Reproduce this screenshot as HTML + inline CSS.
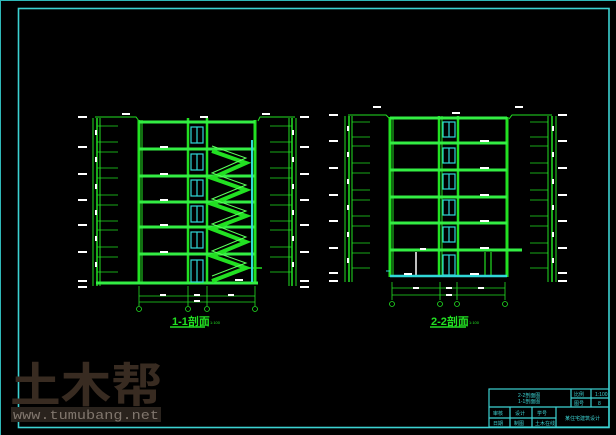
<!DOCTYPE html>
<html><head><meta charset="utf-8"><style>
html,body{margin:0;padding:0;background:#000;}
svg{display:block;}
.t{font-family:"Liberation Sans","Noto Sans CJK SC",sans-serif;}
</style></head><body>
<svg width="616" height="435" viewBox="0 0 616 435" xmlns="http://www.w3.org/2000/svg">
<rect width="616" height="435" fill="#000"/>
<rect x="0.5" y="0.5" width="620" height="440" fill="none" stroke="#2fb8b8" stroke-width="1"/>
<rect x="18.5" y="8.5" width="590.5" height="419" fill="none" stroke="#3cd2d2" stroke-width="1.6"/>

<text x="10" y="402" class="t" font-size="47" font-weight="bold" fill="#382b21" textLength="152" lengthAdjust="spacingAndGlyphs">土木帮</text>
<rect x="11" y="407" width="150" height="15" fill="#2a231d"/>
<text x="13" y="419" font-family="Liberation Mono,monospace" font-size="13" fill="#80766d" textLength="146" lengthAdjust="spacingAndGlyphs">www.tumubang.net</text>

<!-- ===== Section 1-1 ===== -->
<g stroke="#22e022" fill="none">
  <line x1="93" y1="118" x2="93" y2="286" stroke-width="1"/>
  <line x1="97" y1="118" x2="97" y2="286" stroke-width="1.5"/>
  <line x1="100" y1="118" x2="100" y2="286" stroke-width="1"/>
  <polyline points="95,117 136,117 139,121" stroke-width="1"/>
  <line x1="296" y1="118" x2="296" y2="286" stroke-width="1"/>
  <line x1="292" y1="118" x2="292" y2="286" stroke-width="1.5"/>
  <line x1="289" y1="118" x2="289" y2="286" stroke-width="1"/>
  <polyline points="258,121 260,117 295,117" stroke-width="1"/>
  <line x1="139" y1="120" x2="139" y2="284" stroke-width="3"/>
  <line x1="142" y1="120" x2="142" y2="284" stroke-width="1"/>
  <line x1="255" y1="120" x2="255" y2="284" stroke-width="3"/>
  <line x1="188" y1="118" x2="188" y2="284" stroke-width="2.5"/>
  <line x1="207" y1="118" x2="207" y2="284" stroke-width="2.5"/>
  <g stroke-width="3" stroke="#33ee44">
    <line x1="139" y1="122" x2="255" y2="122"/>
    <line x1="139" y1="149" x2="255" y2="149"/>
    <line x1="139" y1="176" x2="255" y2="176"/>
    <line x1="139" y1="202" x2="255" y2="202"/>
    <line x1="139" y1="227" x2="255" y2="227"/>
    <line x1="139" y1="254" x2="255" y2="254"/>
    <line x1="96" y1="283" x2="258" y2="283"/>
  </g>
  <g stroke-width="4">
    <polyline points="212,151 246,163 212,178 246,190 212,204 246,216 212,229 246,242 212,256 246,268 212,281"/>
  </g>
  <g stroke-width="1" stroke="#5cff5c">
    <polyline points="212,146 246,158 212,173 246,185 212,199 246,211 212,224 246,237 212,251 246,263 212,276"/>
  </g>
  <line x1="246" y1="268" x2="262" y2="268" stroke-width="1.5"/>
  <g stroke-width="0.8">
    <line x1="97" y1="126" x2="118" y2="126"/><line x1="97" y1="142" x2="118" y2="142"/><line x1="97" y1="152" x2="118" y2="152"/>
    <line x1="97" y1="168" x2="118" y2="168"/><line x1="97" y1="178" x2="118" y2="178"/><line x1="97" y1="195" x2="118" y2="195"/>
    <line x1="97" y1="205" x2="118" y2="205"/><line x1="97" y1="221" x2="118" y2="221"/><line x1="97" y1="230" x2="118" y2="230"/>
    <line x1="97" y1="247" x2="118" y2="247"/><line x1="97" y1="257" x2="118" y2="257"/><line x1="97" y1="272" x2="118" y2="272"/>
    <line x1="270" y1="126" x2="292" y2="126"/><line x1="270" y1="142" x2="292" y2="142"/><line x1="270" y1="152" x2="292" y2="152"/>
    <line x1="270" y1="168" x2="292" y2="168"/><line x1="270" y1="178" x2="292" y2="178"/><line x1="270" y1="195" x2="292" y2="195"/>
    <line x1="270" y1="205" x2="292" y2="205"/><line x1="270" y1="221" x2="292" y2="221"/><line x1="270" y1="230" x2="292" y2="230"/>
    <line x1="270" y1="247" x2="292" y2="247"/><line x1="270" y1="257" x2="292" y2="257"/><line x1="270" y1="272" x2="292" y2="272"/>
  </g>
  <g stroke-width="0.8">
    <line x1="139" y1="296" x2="255" y2="296"/><line x1="139" y1="302" x2="255" y2="302"/>
    <line x1="139" y1="286" x2="139" y2="306"/><line x1="188" y1="286" x2="188" y2="306"/>
    <line x1="207" y1="286" x2="207" y2="306"/><line x1="255" y1="286" x2="255" y2="306"/>
    <circle cx="139" cy="309" r="2.5"/><circle cx="188" cy="309" r="2.5"/><circle cx="207" cy="309" r="2.5"/><circle cx="255" cy="309" r="2.5"/>
  </g>
  <line x1="170" y1="327" x2="205" y2="327" stroke-width="1.5"/>
</g>
<g stroke="#30d8d8" fill="none" stroke-width="1.2">
  <rect x="191" y="127" width="12" height="16"/><rect x="191" y="154" width="12" height="16"/><rect x="191" y="180" width="12" height="16"/>
  <rect x="191" y="206" width="12" height="16"/><rect x="191" y="232" width="12" height="16"/><rect x="191" y="260" width="12" height="22"/>
  <line x1="197" y1="127" x2="197" y2="143"/><line x1="197" y1="154" x2="197" y2="170"/><line x1="197" y1="180" x2="197" y2="196"/>
  <line x1="197" y1="206" x2="197" y2="222"/><line x1="197" y1="232" x2="197" y2="248"/><line x1="197" y1="260" x2="197" y2="282"/>
  <line x1="252" y1="140" x2="252" y2="282" stroke-width="2"/>
</g>
<g fill="#fff">
  <rect x="78" y="116" width="9" height="2"/><rect x="78" y="146" width="9" height="2"/><rect x="78" y="173" width="9" height="2"/>
  <rect x="78" y="199" width="9" height="2"/><rect x="78" y="224" width="9" height="2"/><rect x="78" y="251" width="9" height="2"/>
  <rect x="78" y="280" width="9" height="2"/><rect x="78" y="286" width="9" height="2"/>
  <rect x="300" y="116" width="9" height="2"/><rect x="300" y="146" width="9" height="2"/><rect x="300" y="173" width="9" height="2"/>
  <rect x="300" y="199" width="9" height="2"/><rect x="300" y="224" width="9" height="2"/><rect x="300" y="251" width="9" height="2"/>
  <rect x="300" y="280" width="9" height="2"/><rect x="300" y="286" width="9" height="2"/>
  <rect x="122" y="113" width="8" height="2"/><rect x="262" y="113" width="8" height="2"/><rect x="200" y="116" width="8" height="2"/>
  <rect x="95" y="130" width="2" height="5"/><rect x="95" y="157" width="2" height="5"/><rect x="95" y="184" width="2" height="5"/>
  <rect x="95" y="210" width="2" height="5"/><rect x="95" y="236" width="2" height="5"/><rect x="95" y="262" width="2" height="5"/>
  <rect x="292" y="130" width="2" height="5"/><rect x="292" y="157" width="2" height="5"/><rect x="292" y="184" width="2" height="5"/>
  <rect x="292" y="210" width="2" height="5"/><rect x="292" y="236" width="2" height="5"/><rect x="292" y="262" width="2" height="5"/>
  <rect x="160" y="146" width="8" height="2"/><rect x="160" y="173" width="8" height="2"/><rect x="160" y="199" width="8" height="2"/>
  <rect x="160" y="224" width="8" height="2"/><rect x="160" y="251" width="8" height="2"/><rect x="235" y="279" width="8" height="2"/>
  <rect x="160" y="294" width="6" height="2"/><rect x="194" y="294" width="6" height="2"/><rect x="228" y="294" width="6" height="2"/><rect x="194" y="300" width="6" height="2"/>
</g>
<text x="172" y="325" class="t" font-size="11" font-weight="bold" fill="#22e022">1-1剖面</text>
<text x="210" y="324" class="t" font-size="4" fill="#22e022">1:100</text>

<!-- ===== Section 2-2 ===== -->
<g stroke="#22e022" fill="none">
  <line x1="345" y1="116" x2="345" y2="282" stroke-width="1"/>
  <line x1="349" y1="116" x2="349" y2="282" stroke-width="1.5"/>
  <line x1="352" y1="116" x2="352" y2="282" stroke-width="1"/>
  <polyline points="348,115 386,115 390,119" stroke-width="1"/>
  <line x1="548" y1="116" x2="548" y2="282" stroke-width="1"/>
  <line x1="552" y1="116" x2="552" y2="282" stroke-width="1.5"/>
  <line x1="556" y1="116" x2="556" y2="282" stroke-width="1"/>
  <polyline points="509,119 512,115 552,115" stroke-width="1"/>
  <line x1="390" y1="117" x2="390" y2="277" stroke-width="3"/>
  <line x1="393" y1="117" x2="393" y2="277" stroke-width="1"/>
  <line x1="507" y1="117" x2="507" y2="277" stroke-width="3"/>
  <line x1="439" y1="116" x2="439" y2="277" stroke-width="2.5"/>
  <line x1="458" y1="116" x2="458" y2="277" stroke-width="2.5"/>
  <line x1="442" y1="116" x2="442" y2="277" stroke-width="1"/>
  <g stroke-width="3" stroke="#33ee44">
    <line x1="390" y1="118" x2="507" y2="118"/>
    <line x1="390" y1="143" x2="507" y2="143"/>
    <line x1="390" y1="170" x2="507" y2="170"/>
    <line x1="390" y1="197" x2="507" y2="197"/>
    <line x1="390" y1="223" x2="507" y2="223"/>
    <line x1="390" y1="250" x2="522" y2="250"/>
  </g>
  <line x1="416" y1="252" x2="416" y2="276" stroke="#fff" stroke-width="1.5"/>
  <line x1="485" y1="252" x2="485" y2="276" stroke-width="1.2"/>
  <line x1="491" y1="252" x2="491" y2="276" stroke-width="1.2"/>
  <g stroke-width="0.8">
    <line x1="352" y1="122" x2="370" y2="122"/><line x1="352" y1="137" x2="370" y2="137"/><line x1="352" y1="146" x2="370" y2="146"/>
    <line x1="352" y1="163" x2="370" y2="163"/><line x1="352" y1="173" x2="370" y2="173"/><line x1="352" y1="190" x2="370" y2="190"/>
    <line x1="352" y1="200" x2="370" y2="200"/><line x1="352" y1="216" x2="370" y2="216"/><line x1="352" y1="226" x2="370" y2="226"/>
    <line x1="352" y1="243" x2="370" y2="243"/><line x1="352" y1="253" x2="370" y2="253"/><line x1="352" y1="268" x2="370" y2="268"/>
    <line x1="530" y1="122" x2="548" y2="122"/><line x1="530" y1="137" x2="548" y2="137"/><line x1="530" y1="146" x2="548" y2="146"/>
    <line x1="530" y1="163" x2="548" y2="163"/><line x1="530" y1="173" x2="548" y2="173"/><line x1="530" y1="190" x2="548" y2="190"/>
    <line x1="530" y1="200" x2="548" y2="200"/><line x1="530" y1="216" x2="548" y2="216"/><line x1="530" y1="226" x2="548" y2="226"/>
    <line x1="530" y1="243" x2="548" y2="243"/><line x1="530" y1="253" x2="548" y2="253"/><line x1="530" y1="268" x2="548" y2="268"/>
  </g>
  <g stroke-width="0.8">
    <line x1="392" y1="288" x2="505" y2="288"/><line x1="392" y1="295" x2="505" y2="295"/>
    <line x1="392" y1="282" x2="392" y2="300"/><line x1="440" y1="282" x2="440" y2="300"/>
    <line x1="457" y1="282" x2="457" y2="300"/><line x1="505" y1="282" x2="505" y2="300"/>
    <circle cx="392" cy="304" r="2.5"/><circle cx="440" cy="304" r="2.5"/><circle cx="457" cy="304" r="2.5"/><circle cx="505" cy="304" r="2.5"/>
  </g>
  <line x1="430" y1="327" x2="466" y2="327" stroke-width="1.5"/>
</g>
<g stroke="#30d8d8" fill="none" stroke-width="1.2">
  <line x1="390" y1="276" x2="507" y2="276" stroke-width="2.5"/>
  <line x1="386" y1="271" x2="390" y2="271" stroke-width="1"/>
  <rect x="443" y="122" width="12" height="15"/><rect x="443" y="148" width="12" height="15"/><rect x="443" y="174" width="12" height="15"/>
  <rect x="443" y="200" width="12" height="15"/><rect x="443" y="227" width="12" height="15"/><rect x="443" y="255" width="12" height="20"/>
  <line x1="449" y1="122" x2="449" y2="137"/><line x1="449" y1="148" x2="449" y2="163"/><line x1="449" y1="174" x2="449" y2="189"/>
  <line x1="449" y1="200" x2="449" y2="215"/><line x1="449" y1="227" x2="449" y2="242"/><line x1="449" y1="255" x2="449" y2="275"/>
</g>
<g fill="#fff">
  <rect x="329" y="114" width="9" height="2"/><rect x="329" y="140" width="9" height="2"/><rect x="329" y="167" width="9" height="2"/>
  <rect x="329" y="194" width="9" height="2"/><rect x="329" y="220" width="9" height="2"/><rect x="329" y="247" width="9" height="2"/>
  <rect x="329" y="272" width="9" height="2"/><rect x="329" y="280" width="9" height="2"/>
  <rect x="558" y="114" width="9" height="2"/><rect x="558" y="140" width="9" height="2"/><rect x="558" y="167" width="9" height="2"/>
  <rect x="558" y="194" width="9" height="2"/><rect x="558" y="220" width="9" height="2"/><rect x="558" y="247" width="9" height="2"/>
  <rect x="558" y="272" width="9" height="2"/><rect x="558" y="280" width="9" height="2"/>
  <rect x="373" y="106" width="8" height="2"/><rect x="515" y="106" width="8" height="2"/><rect x="452" y="112" width="8" height="2"/>
  <rect x="347" y="126" width="2" height="5"/><rect x="347" y="152" width="2" height="5"/><rect x="347" y="179" width="2" height="5"/>
  <rect x="347" y="205" width="2" height="5"/><rect x="347" y="232" width="2" height="5"/><rect x="347" y="258" width="2" height="5"/>
  <rect x="552" y="126" width="2" height="5"/><rect x="552" y="152" width="2" height="5"/><rect x="552" y="179" width="2" height="5"/>
  <rect x="552" y="205" width="2" height="5"/><rect x="552" y="232" width="2" height="5"/><rect x="552" y="258" width="2" height="5"/>
  <rect x="480" y="140" width="9" height="2"/><rect x="480" y="167" width="9" height="2"/><rect x="480" y="194" width="9" height="2"/>
  <rect x="480" y="220" width="9" height="2"/><rect x="480" y="247" width="9" height="2"/><rect x="470" y="273" width="9" height="2"/>
  <rect x="404" y="273" width="8" height="2"/><rect x="420" y="248" width="6" height="2"/>
  <rect x="413" y="287" width="6" height="2"/><rect x="446" y="287" width="6" height="2"/><rect x="478" y="287" width="6" height="2"/><rect x="446" y="294" width="6" height="2"/>
</g>
<text x="431" y="325" class="t" font-size="11" font-weight="bold" fill="#22e022">2-2剖面</text>
<text x="469" y="324" class="t" font-size="4" fill="#22e022">1:100</text>

<g stroke="#3cd2d2" fill="none" stroke-width="1.2">
  <rect x="489" y="389" width="120" height="38"/>
  <line x1="489" y1="407" x2="609" y2="407"/>
  <line x1="489" y1="418" x2="556" y2="418"/>
  <line x1="571" y1="398" x2="609" y2="398"/>
  <line x1="571" y1="389" x2="571" y2="407"/>
  <line x1="591" y1="389" x2="591" y2="407"/>
  <line x1="510" y1="407" x2="510" y2="427"/>
  <line x1="532" y1="407" x2="532" y2="427"/>
  <line x1="556" y1="407" x2="556" y2="427"/>
</g>
<g class="t" font-size="5" fill="#3cd2d2">
  <text x="518" y="397">2-2剖面图</text><text x="518" y="403">1-1剖面图</text>
  <text x="574" y="396">比例</text><text x="595" y="396">1:100</text>
  <text x="574" y="405">图号</text><text x="598" y="405">8</text>
  <text x="493" y="415">审核</text><text x="515" y="415">设计</text><text x="537" y="415">学号</text>
  <text x="493" y="425">日期</text><text x="514" y="425">制图</text><text x="535" y="425">土木在线</text>
  <text x="565" y="420">某住宅建筑设计</text>
</g>
</svg>
</body></html>
